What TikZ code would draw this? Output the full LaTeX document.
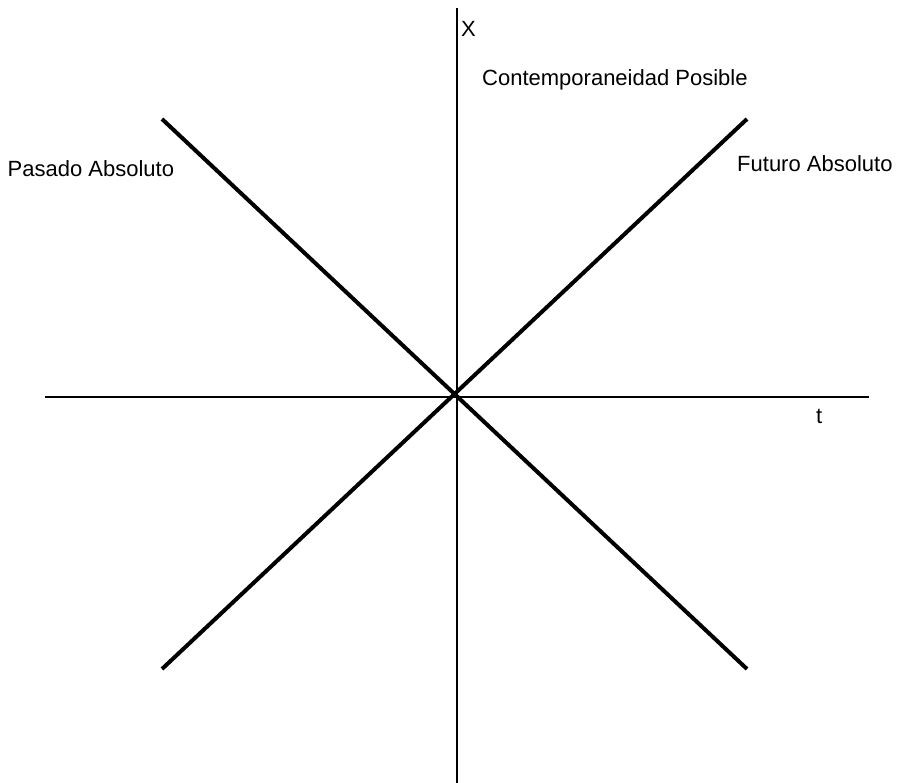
\documentclass[tikz,border=0pt]{standalone}
\usepackage{fontspec}
\setmainfont{Liberation Sans}
\begin{document}
\begin{tikzpicture}[x=1pt,y=-1pt,
  axis/.style={line width=1.5pt,black},
  cone/.style={line width=4pt,black},
  lbl/.style={anchor=base west,inner sep=0pt,font=\fontsize{22}{24}\selectfont}]
\useasboundingbox (0,0) rectangle (901,783);
\coordinate (vtop) at (457,8);
\coordinate (vbot) at (457,783);
\coordinate (hl) at (45,397);
\coordinate (hr) at (869,397);
\coordinate (tl) at (162,119);
\coordinate (br) at (747,669);
\coordinate (bl) at (162,669);
\coordinate (tr) at (747,119);
\draw[axis] (vtop) -- (vbot);
\draw[axis] (hl) -- (hr);
\draw[cone] (tl) -- (br);
\draw[cone] (bl) -- (tr);
\node[lbl] (xl) at (461,37) {X};
\node[lbl] (cp) at (482,86) {Contemporaneidad Posible};
\node[lbl] (pa) at (7.5,177) {Pasado Absoluto};
\node[lbl] (fa) at (737,172) {Futuro Absoluto};
\node[lbl] (tlab) at (816,423) {t};
\end{tikzpicture}
\end{document}
